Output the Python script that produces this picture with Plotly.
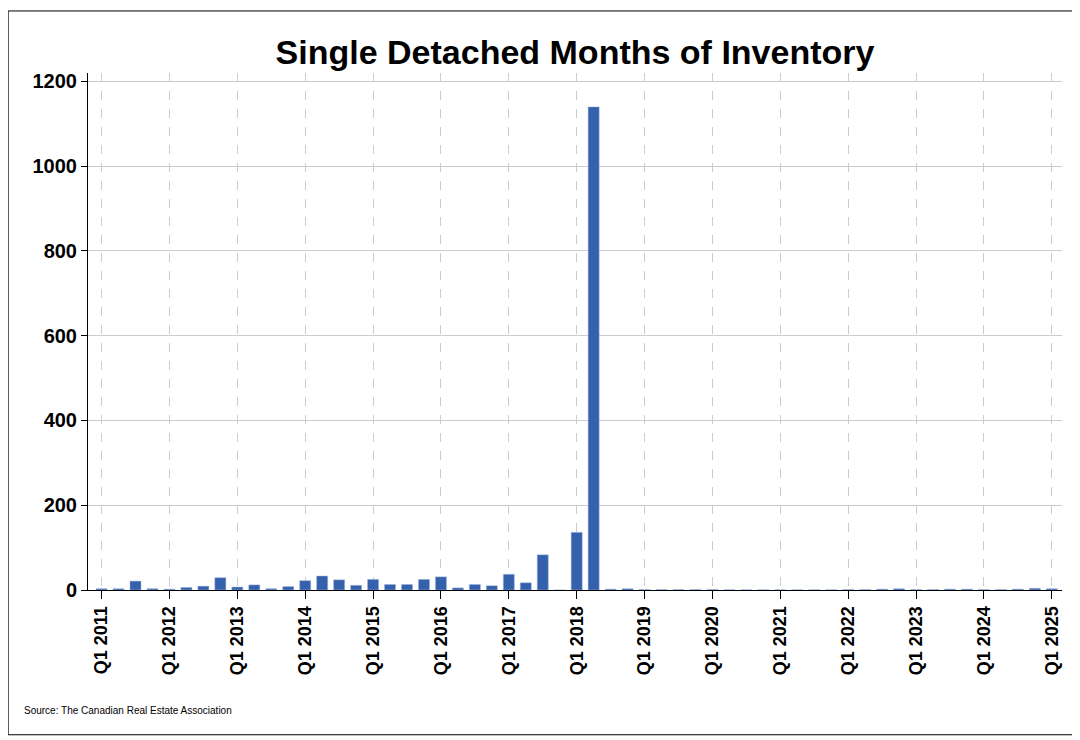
import plotly.graph_objects as go

quarters = [f"Q{q} {y}" for y in range(2011, 2026) for q in range(1, 5)][:57]
months_inventory = [
    3, 3, 21, 3,
    2, 6, 9, 29,
    7, 12, 3, 8,
    22, 33, 24, 11,
    25, 13, 13, 25,
    31, 5, 13, 10,
    37, 17, 83, 0,
    136, 1140, 2, 3,
    1, 1, 1, 1,
    1, 0.5, 0.5, 0.5,
    0.5, 0.5, 0.5, 0.5,
    1, 1, 2, 3,
    1, 1, 2, 2,
    1, 1, 2, 4,
    3,
]
tick_labels = [q for q in quarters if q.startswith("Q1")]

fig = go.Figure(go.Bar(x=quarters, y=months_inventory, marker_color="#3560ac",
                       marker_line=dict(color="#9fb3dc", width=0.5), width=0.65))

fig.update_layout(
    width=1080, height=740, plot_bgcolor="white", paper_bgcolor="white",
    font=dict(family="Liberation Sans, Arial", color="black"),
    title=dict(text="<b>Single Detached Months of Inventory</b>", x=0.525, y=0.957,
               font=dict(size=34, color="black")),
    margin=dict(l=80, r=26, t=65, b=158),
    showlegend=False, bargap=0.35,
    annotations=[dict(text="Source: The Canadian Real Estate Association", xref="paper",
                      yref="paper", x=-0.068, y=-0.248, xanchor="left", showarrow=False,
                      font=dict(size=10))],
    shapes=[dict(type="rect", xref="paper", yref="paper", x0=-0.082, x1=1.02,
                 y0=-0.28, y1=1.12, line=dict(color="black", width=1))],
)
fig.update_xaxes(tickmode="array", tickvals=tick_labels,
                 ticktext=[f"<b>{t}</b>" for t in tick_labels],
                 tickangle=-90, tickfont=dict(size=18),
                 showgrid=True, gridcolor="#cccccc", griddash="dash",
                 ticks="outside", ticklen=8, tickcolor="black",
                 showline=True, linecolor="black", range=[-0.8, 56.6])
fig.update_yaxes(range=[0, 1220], dtick=200, tickfont=dict(size=20),
                 tickprefix="<b>", ticksuffix="</b>",
                 showgrid=True, gridcolor="#cccccc", zeroline=False,
                 ticks="outside", ticklen=6, tickcolor="black",
                 showline=True, linecolor="black")

fig.write_html("out.html")
